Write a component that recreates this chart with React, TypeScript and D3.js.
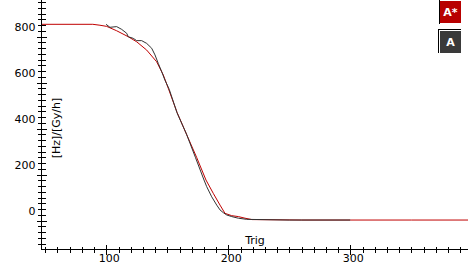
import React from "react";
import * as d3 from "d3";

// Data
const redX = [47, 88.9, 94.8, 100.3, 108.5, 118, 124.9, 133.1, 141.3, 146.7, 150.8, 158, 165.9, 174, 181.7, 187.7, 193.2, 197.3, 202.8, 208.2, 213.7, 219.4, 260, 300, 350, 396.8];
const redY = [853, 853, 849, 844, 825, 799, 777, 741, 690, 633, 575, 470, 373, 275, 176, 118, 67, 31, 21, 17, 10, 4, 2, 2, 2, 2];

const blackX = [99.8, 103.0, 108.5, 112.6, 116.7, 118.0, 122.1, 124.9, 129.0, 133.1, 137.2, 139.9, 142.6, 145.4, 148.1, 151.6, 158, 165.7, 173, 180.1, 182.3, 186.4, 190.5, 193.2, 195.9, 198.7, 202.8, 208.2, 215.1, 250, 300];
const blackY = [853, 840, 843, 831, 814, 799, 792, 782, 782, 770, 749, 720, 683, 647, 610, 570, 468, 376, 275, 176, 147, 103, 67, 46, 34, 24, 17, 10, 5, 2, 2];

const xMajorTicks = [100, 200, 300];
const yMajorTicks = [0, 200, 400, 600, 800];

const W = 468;
const H = 274;

export default function App() {
  const x = d3.scaleLinear().domain([100, 300]).range([106.3, 350.3]);
  const y = d3.scaleLinear().domain([0, 800]).range([220.5, 36.5]);

  const axisX = 41.5;
  const axisY = 249.5;

  const xMinor = d3.range(50, 397, 10).filter((v) => x(v) > axisX + 1 && x(v) < W);
  const yMinor = d3.range(-125, 960, 25).filter((v) => y(v) < axisY - 1 && y(v) > 0);

  const line = d3
    .line<[number, number]>()
    .x((d) => x(d[0]))
    .y((d) => y(d[1]));

  const redData: [number, number][] = redX.map((v, i) => [v, redY[i]]);
  const blackData: [number, number][] = blackX.map((v, i) => [v, blackY[i]]);

  const font = "'DejaVu Sans', sans-serif";

  return (
    <svg
      width={W}
      height={H}
      style={{ position: "absolute", left: 0, top: 0, background: "#fff" }}
    >
      {/* curves */}
      <path d={line(redData) || ""} fill="none" stroke="#c00000" strokeWidth={1} />
      <path d={line(blackData) || ""} fill="none" stroke="#333333" strokeWidth={1} />

      {/* y axis */}
      <line x1={axisX} x2={axisX} y1={0} y2={axisY} stroke="#000" shapeRendering="crispEdges" />
      {yMinor.map((v) => {
        const major = yMajorTicks.includes(v);
        const yy = Math.round(y(v)) + 0.5;
        return (
          <line
            key={"ym" + v}
            x1={major ? 37 : 38}
            x2={major ? 47 : 45.5}
            y1={yy}
            y2={yy}
            stroke="#000"
            shapeRendering="crispEdges"
          />
        );
      })}
      {yMajorTicks.map((v) => (
        <text
          key={"yl" + v}
          x={35.5}
          y={y(v) - 9}
          dy="0.35em"
          textAnchor="end"
          fontFamily={font}
          fontSize={11}
          fill="#000"
        >
          {v}
        </text>
      ))}

      {/* x axis */}
      <line x1={axisX} x2={W} y1={axisY} y2={axisY} stroke="#000" shapeRendering="crispEdges" />
      {xMinor.map((v) => {
        const major = xMajorTicks.includes(v);
        const xx = Math.round(x(v)) + 0.5;
        return (
          <line
            key={"xm" + v}
            x1={xx}
            x2={xx}
            y1={major ? 245 : 246.5}
            y2={major ? 255 : 253}
            stroke="#000"
            shapeRendering="crispEdges"
          />
        );
      })}
      {xMajorTicks.map((v) => (
        <text
          key={"xl" + v}
          x={x(v) + 3}
          y={258.5}
          dy="0.35em"
          textAnchor="middle"
          fontFamily={font}
          fontSize={11}
          fill="#000"
        >
          {v}
        </text>
      ))}

      {/* axis titles */}
      <text x={255} y={240} dy="0.35em" textAnchor="middle" fontFamily={font} fontSize={11} fill="#000">
        Trig
      </text>
      <text
        transform={`translate(56,128) rotate(-90)`}
        textAnchor="middle"
        dy="0.35em"
        fontFamily={font}
        fontSize={11}
        fill="#000"
      >
        [Hz]/[Gy/h]
      </text>

      {/* buttons */}
      <rect x={440} y={1} width={21} height={22} fill="#b80000" />
      <line x1={439.5} x2={439.5} y1={0} y2={24} stroke="#000" shapeRendering="crispEdges" />
      <text x={450.5} y={12} dy="0.35em" textAnchor="middle" fontFamily={font} fontSize={11} fontWeight="bold" fill="#fff">
        A*
      </text>
      <rect x={440} y={31} width={21} height={22} fill="#3a3a3a" />
      <path d="M438.5,53 V29.5 H461" fill="none" stroke="#000" shapeRendering="crispEdges" />
      <text x={450.5} y={42} dy="0.35em" textAnchor="middle" fontFamily={font} fontSize={11} fontWeight="bold" fill="#fff">
        A
      </text>
    </svg>
  );
}
